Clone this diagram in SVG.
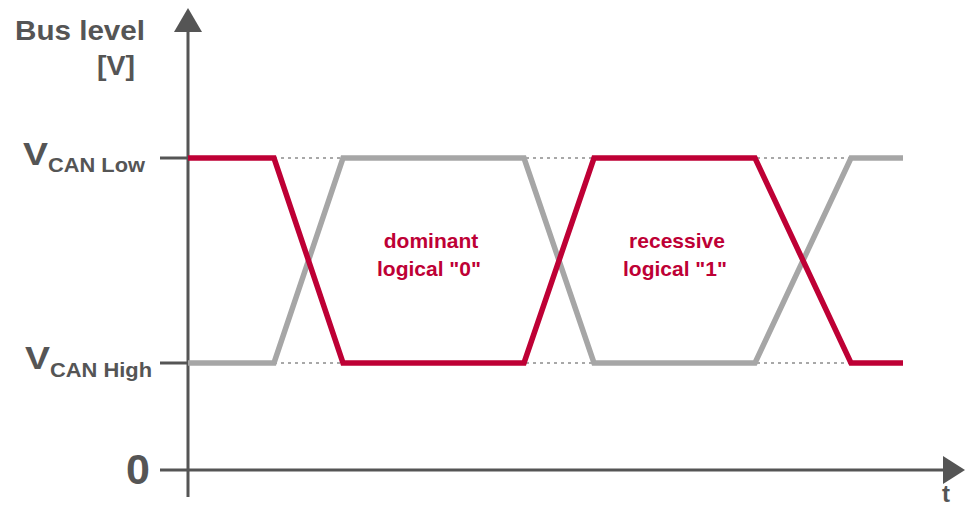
<svg xmlns="http://www.w3.org/2000/svg" width="966" height="508" viewBox="0 0 966 508">
  <style>
    .lbl { font-family: "Liberation Sans", Arial, sans-serif; font-weight: bold; fill: #555555; }
    .note { font-family: "Liberation Sans", Arial, sans-serif; font-weight: bold; fill: #BE0035; font-size: 21px; text-anchor: middle; }
    .axis { stroke: #555555; stroke-width: 3; fill: none; }
    .guide { stroke: #A8A8A8; stroke-width: 2; stroke-dasharray: 3 4; fill: none; }
    .sig { stroke-width: 5.5; fill: none; stroke-linejoin: miter; }
  </style>
  <rect width="966" height="508" fill="#ffffff"/>

  <!-- level guides -->
  <g id="guides">
    <line class="guide" x1="190" y1="158" x2="902" y2="158"/>
    <line class="guide" x1="190" y1="363" x2="902" y2="363"/>
  </g>

  <!-- axes -->
  <g id="axes">
    <line class="axis" x1="188" y1="497" x2="188" y2="30"/>
    <polygon points="188,8 174,32 202,32" fill="#555555"/>
    <line class="axis" x1="160" y1="470" x2="945" y2="470"/>
    <polygon points="965,470 943,456 943,484" fill="#555555"/>
    <line class="axis" x1="160" y1="158" x2="188" y2="158"/>
    <line class="axis" x1="160" y1="363" x2="188" y2="363"/>
  </g>

  <!-- bus signals -->
  <g id="connectors">
    <polyline class="sig" stroke="#A6A6A6" points="188,363 274,363 343,158 524,158 594,363 755,363 851,158 903,158"/>
    <polyline class="sig" stroke="#BE0035" points="188,158 274,158 343,363 524,363 594,158 755,158 851,363 903,363"/>
  </g>

  <g id="y-title">
    <text class="lbl" x="15" y="40" font-size="27" textLength="130" lengthAdjust="spacingAndGlyphs">Bus level</text>
    <text class="lbl" x="97" y="75" font-size="27" textLength="38" lengthAdjust="spacingAndGlyphs">[V]</text>
  </g>
  <g id="v-can-low">
    <text class="lbl" x="23" y="165" font-size="32" textLength="25" lengthAdjust="spacingAndGlyphs">V</text>
    <text class="lbl" x="48" y="172" font-size="21" textLength="97" lengthAdjust="spacingAndGlyphs">CAN Low</text>
  </g>
  <g id="v-can-high">
    <text class="lbl" x="25" y="369" font-size="32" textLength="25" lengthAdjust="spacingAndGlyphs">V</text>
    <text class="lbl" x="50" y="377" font-size="21" textLength="102" lengthAdjust="spacingAndGlyphs">CAN High</text>
  </g>
  <g id="zero">
    <text class="lbl" x="150" y="484" font-size="43" text-anchor="end">0</text>
  </g>
  <g id="t-label">
    <text class="lbl" x="946" y="502" font-size="24" text-anchor="middle">t</text>
  </g>
  <g id="dominant">
    <text class="note" x="431" y="248">dominant</text>
    <text class="note" x="429" y="276">logical "0"</text>
  </g>
  <g id="recessive">
    <text class="note" x="677" y="248">recessive</text>
    <text class="note" x="675" y="276">logical "1"</text>
  </g>
</svg>
